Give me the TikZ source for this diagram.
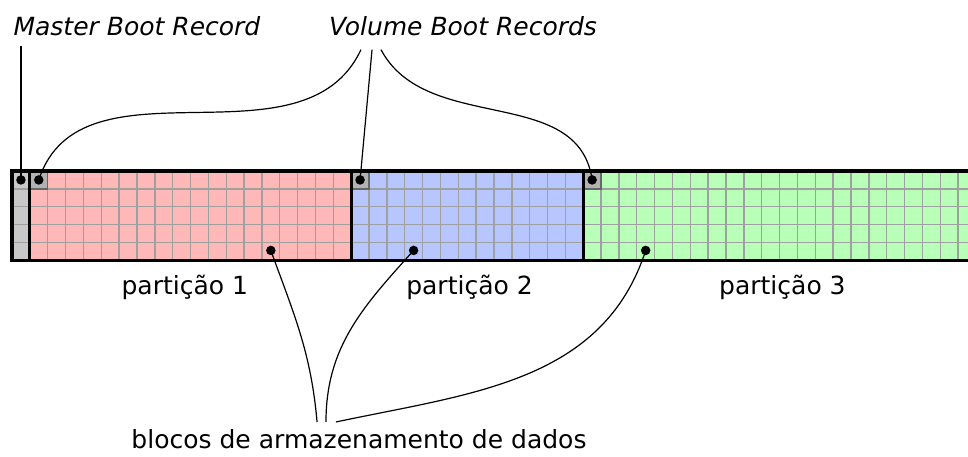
\documentclass[tikz,border=0pt]{standalone}
\usepackage{fontspec}
\setmainfont{DejaVu Sans}
\definecolor{partone}{RGB}{255,184,184}
\definecolor{parttwo}{RGB}{184,198,255}
\definecolor{partthree}{RGB}{184,255,184}
\definecolor{mbrgray}{RGB}{200,200,200}
\definecolor{vbrgray}{RGB}{178,178,178}
\definecolor{gridgray}{RGB}{160,160,160}
\tikzset{
  cell/.style={draw=gridgray, line width=1.4pt},
  bootcell/.style={fill=vbrgray, draw=black!60, line width=1.4pt},
  border/.style={line width=3.2pt},
  pin/.style={circle, fill=black, inner sep=0pt, minimum size=9.5pt},
  lead/.style={line width=1.2pt},
  txt/.style={font=\fontsize{25}{30}\selectfont, inner sep=0pt, anchor=base}
}
\begin{document}
\begin{tikzpicture}[x=17.85pt, y=-17.85pt]
        \useasboundingbox (-0.6723,-9.58) rectangle (53.557,16.022);
        % MBR column
        \foreach \y in {0,...,4}{
            \filldraw[cell, fill=mbrgray] (0,\y) rectangle ++(1,1);
        }
        % partitions
        \foreach \a/\b/\c in {1/18/partone, 19/31/parttwo, 32/53/partthree}{
            \foreach \x in {\a,...,\b}{
                \foreach \y in {0,...,4}{
                    \filldraw[cell, fill=\c] (\x,\y) rectangle ++(1,1);
                }
            }
        }
        % volume boot records
        \foreach \x in {1,19,32}{
            \filldraw[bootcell] (\x,0) rectangle ++(1,1);
        }
        \draw[border] (0,0) rectangle (54,5);
        \foreach \x in {1,19,32}{
            \draw[border] (\x,0) -- (\x,5);
        }
        % pins
        \node[pin] (mbr) at (0.5,0.5) {};
        \node[pin] (vbra) at (1.5,0.5) {};
        \node[pin] (vbrb) at (19.5,0.5) {};
        \node[pin] (vbrc) at (32.5,0.5) {};
        \node[pin] (dataa) at (14.5,4.45) {};
        \node[pin] (datab) at (22.5,4.45) {};
        \node[pin] (datac) at (35.5,4.45) {};
        % texts
        \node[txt] (mbrtext) at (7.0,-7.6) {\itshape Master Boot Record};
        \node[txt] (vbrtext) at (25.27,-7.6) {\itshape Volume Boot Records};
        \node[txt] (pone) at (9.68,6.9) {partição 1};
        \node[txt] (ptwo) at (25.63,6.9) {partição 2};
        \node[txt] (pthree) at (43.16,6.9) {partição 3};
        \node[txt] (datatext) at (19.44,15.55) {blocos de armazenamento de dados};
        % lead ends
        \coordinate (mbrend) at (0.5,-7.0);
        \coordinate (vbrenda) at (19.55,-6.8);
        \coordinate (vbrendb) at (20.17,-6.8);
        \coordinate (vbrendc) at (20.67,-6.8);
        \coordinate (dataenda) at (17.09,14.06);
        \coordinate (dataendb) at (17.59,14.06);
        \coordinate (dataendc) at (18.15,14.06);
        % leads
        \draw[lead] (mbr.center) -- (mbrend);
        \draw[lead] (vbra.center) to[out=72, in=-115] (vbrenda);
        \draw[lead] (vbrb.center) -- (vbrendb);
        \draw[lead] (vbrc.center) to[out=98, in=-62] (vbrendc);
        \draw[lead] (dataa.center) to[out=-70, in=95] (dataenda);
        \draw[lead] (datab.center) to[out=-132, in=90] (dataendb);
        \draw[lead] (datac.center) to[out=-108, in=12] (dataendc);
\end{tikzpicture}
\end{document}
